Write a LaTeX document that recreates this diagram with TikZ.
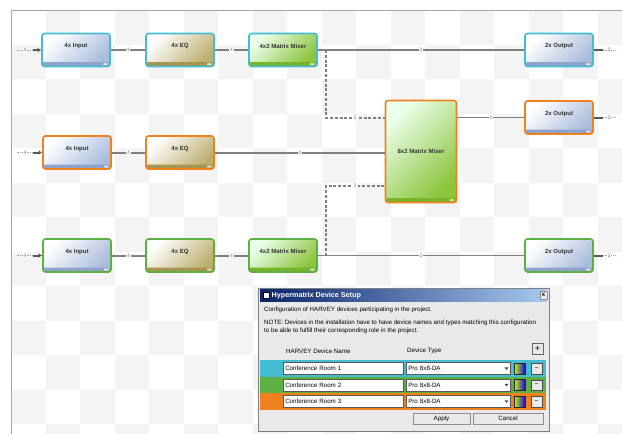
\documentclass[tikz,border=0pt]{standalone}
\usepackage{fontspec}
\setmainfont{Liberation Sans}
\usepackage{xcolor}
\usetikzlibrary{arrows.meta}

\definecolor{roomcyan}{HTML}{45BCD2}
\definecolor{roomgreen}{HTML}{5DB043}
\definecolor{roomorange}{HTML}{F0821E}
\definecolor{inputblue}{HTML}{A9BCDC}
\definecolor{inputdark}{HTML}{8EA3CB}
\definecolor{eqkhaki}{HTML}{BCAE6E}
\definecolor{eqdark}{HTML}{A69550}
\definecolor{mixgreen}{HTML}{8CC43C}
\definecolor{mixdark}{HTML}{78B32C}
\definecolor{linkgray}{HTML}{808080}
\definecolor{checkgray}{HTML}{F4F4F4}
\definecolor{dlgface}{HTML}{E9E9E9}
\definecolor{titledark}{HTML}{0A246A}
\definecolor{titlelight}{HTML}{A6CAF0}

\tikzset{
  block/.style={draw=#1, line width=1.6pt, rounded corners=2.5pt,
    minimum width=68pt, minimum height=33pt, inner sep=0pt},
  strip/.style={path picture={
    \fill[#1] ([yshift=4.5pt]path picture bounding box.south west) rectangle (path picture bounding box.south east);
    \fill[white,opacity=.75] ([xshift=-7pt,yshift=1.2pt]path picture bounding box.south east) rectangle ([xshift=-2.5pt,yshift=3.6pt]path picture bounding box.south east);}},
  inblock/.style={block=#1, left color=white, right color=inputblue, shading angle=45, strip=inputdark},
  eqblock/.style={block=#1, left color=white, right color=eqkhaki, shading angle=45, strip=eqdark},
  mixblock/.style={block=#1, left color=green!8!white, right color=mixgreen, shading angle=45, strip=mixdark},
  blocklbl/.style={anchor=north, yshift=-7.5pt, font=\bfseries\fontsize{6}{6.5}\selectfont, text=black!80},
  fatlink/.style={draw=linkgray, line width=2pt},
  thinlink/.style={draw=linkgray, line width=1.1pt},
  dashlink/.style={draw=linkgray, line width=1.1pt, dash pattern=on 3pt off 1.8pt},
  portline/.style={draw=linkgray!70, line width=0.6pt, dash pattern=on 1.5pt off 1pt},
  count/.style={font=\fontsize{5}{5.5}\selectfont, text=black!55, fill=white, inner sep=0.8pt},
  dlgtext/.style={anchor=west, inner sep=0pt, font=\fontsize{6.2}{7}\selectfont},
  dlgbox/.style={draw=black!65, line width=0.5pt, fill=white, inner xsep=2pt, inner ysep=0pt,
    minimum height=12pt, font=\fontsize{6.2}{7}\selectfont, align=left},
  dlgbutton/.style={draw=black!45, line width=0.5pt, fill=dlgface, inner sep=0pt,
    font=\fontsize{6.2}{7}\selectfont},
}

\begin{document}
\begin{tikzpicture}[x=1pt,y=-1pt]
\useasboundingbox (0,0) rectangle (622,434);
\fill[white] (0,0) rectangle (622,434);
% Drawing canvas
\begin{scope}
\clip (11,10) rectangle (622,434);
\foreach \i in {0,...,17} {
  \foreach \j in {0,...,12} {
    \pgfmathtruncatemacro{\odd}{mod(\i+\j,2)}
    \ifnum\odd=1
      \fill[checkgray] (11+34.5*\i,10+34.5*\j) rectangle ++(34.5,34.5);
    \fi
  }
}
\end{scope}
\draw[gray!70, line width=1pt] (11,434) -- (11,10) -- (622,10);
% Done with canvas; drawing blocks
% Room 1: cyan
\node[inblock=roomcyan, label={[blocklbl]north:4x Input}] (in1) at (76.000000, 50.000000) {};
\node[eqblock=roomcyan, label={[blocklbl]north:4x EQ}] (eq1) at (180.000000, 50.000000) {};
\node[mixblock=roomcyan, label={[blocklbl]north:4x2 Matrix Mixer}] (mx1) at (283.000000, 50.000000) {};
\node[inblock=roomcyan, label={[blocklbl]north:2x Output}] (out1) at (559.000000, 50.000000) {};
% Room 2: orange
\node[inblock=roomorange, label={[blocklbl]north:4x Input}] (in2) at (77.000000, 152.500000) {};
\node[eqblock=roomorange, label={[blocklbl]north:4x EQ}] (eq2) at (180.000000, 152.500000) {};
\node[mixblock=roomorange, minimum width=71pt, minimum height=102pt,
  font=\bfseries\fontsize{6}{6.5}\selectfont, text=black!80] (mx2) at (421.000000, 151.500000) {8x2 Matrix Mixer};
\node[inblock=roomorange, label={[blocklbl]north:2x Output}] (out2) at (559.000000, 117.500000) {};
% Room 3: green
\node[inblock=roomgreen, label={[blocklbl]north:4x Input}] (in3) at (77.000000, 255.500000) {};
\node[eqblock=roomgreen, label={[blocklbl]north:4x EQ}] (eq3) at (180.000000, 255.500000) {};
\node[mixblock=roomgreen, label={[blocklbl]north:4x2 Matrix Mixer}] (mx3) at (283.000000, 255.500000) {};
\node[inblock=roomgreen, label={[blocklbl]north:2x Output}] (out3) at (559.000000, 255.500000) {};
% Done with blocks; drawing links
\foreach \r/\y in {1/50.000000, 2/152.500000, 3/255.500000} {
  \coordinate (inp\r) at (17.000000, \y);
  \coordinate (inq\r) at (33.000000, \y);
  \draw[portline] (inp\r) -- node[count]{4} (inq\r);
  \draw[fatlink, draw=black!65, -{Latex[length=3.5pt,width=4.5pt]}] (inq\r) -- (in\r.west);
  \draw[fatlink] (in\r) -- node[count]{4} (eq\r);
}
\draw[fatlink] (eq1) -- node[count]{4} (mx1);
\draw[fatlink] (eq3) -- node[count]{4} (mx3);
\draw[fatlink] (eq2) -- node[count]{4} (eq2 -| mx2.west);
\draw[thinlink] (mx1) -- node[count]{2} (out1);
\draw[thinlink] (mx2.east |- out2) -- node[count]{2} (out2);
\draw[thinlink] (mx3) -- node[count]{2} (out3);
% Line: dashed feeds into the 8x2 mixer
\coordinate (j1) at (326.000000, 50.000000);
\coordinate (j2) at (326.000000, 118.000000);
\coordinate (j3) at (326.000000, 255.500000);
\coordinate (j4) at (326.000000, 186.000000);
\draw[dashlink] (j1) -- (j2) -- node[count]{2} (j2 -| mx2.west);
\draw[dashlink] (j3) -- (j4) -- node[count]{2} (j4 -| mx2.west);
% Line: output tails
\foreach \r in {1,2,3} {
  \coordinate (outp\r) at ([xshift=9pt]out\r.east);
  \coordinate (outq\r) at ([xshift=22pt]out\r.east);
  \draw[fatlink, draw=black!65] (out\r.east) -- (outp\r);
  \draw[portline] (outp\r) -- node[count, text=red!45!gray]{2} (outq\r);
}
% Done with links; drawing setup dialog
\node[draw=black!50, line width=0.8pt, fill=dlgface, anchor=north west, inner sep=0pt,
  minimum width=291pt, minimum height=143pt] (dlg) at (258.000000, 287.500000) {};
\node[anchor=north west, inner sep=0pt, minimum width=287pt, minimum height=11.5pt,
  left color=titledark, right color=titlelight] (dlgtitle) at (260.000000, 289.500000) {};
\node[draw=black, fill=white, line width=0.5pt, minimum size=6pt, inner sep=0pt] (dlgicon) at (266.000000, 295.200000) {};
\node[anchor=west, inner sep=0pt, text=white, font=\bfseries\fontsize{7.2}{8}\selectfont] (dlgname) at (271.500000, 295.200000) {Hypermatrix Device Setup};
\node[dlgbutton, minimum width=7pt, minimum height=8pt, font=\bfseries\fontsize{6}{6}\selectfont] (dlgclose) at (543.500000, 295.200000) {x};
\node[dlgtext] (dlgline1) at (264.000000, 310.000000) {Configuration of HARVEY devices participating in the project.};
\node[dlgtext] (dlgline2) at (264.000000, 322.500000) {NOTE: Devices in the installation have to have device names and types matching this configuration};
\node[dlgtext] (dlgline3) at (264.000000, 330.500000) {to be able to fulfill their corresponding role in the project.};
\node[dlgtext] (hdrname) at (286.000000, 351.000000) {HARVEY Device Name};
\node[dlgtext] (hdrtype) at (407.000000, 351.000000) {Device Type};
\node[dlgbutton, draw=black!60, minimum size=11pt, font=\fontsize{9}{9}\selectfont] (addbtn) at (537.500000, 348.500000) {+};
% Line: one row per room
\foreach \c/\n/\y in {roomcyan/1/368.500000, roomgreen/2/385.000000, roomorange/3/401.500000} {
  \node[fill=\c, inner sep=0pt, minimum width=286pt, minimum height=16.5pt] (row\n) at (402.500000, \y) {};
  \node[dlgbox, anchor=west, text width=116pt] (name\n) at (283.000000, \y) {Conference Room \n};
  \node[dlgbox, anchor=west, text width=100pt] (type\n) at (406.000000, \y) {Pro 8x8-DA};
  \fill[black!70] (504.500000,\y-1.2) -- (508.500000,\y-1.2) -- (506.500000,\y+1.4) -- cycle;
  \node[draw=black!85, line width=0.8pt, inner sep=0pt, minimum width=11pt, minimum height=11pt,
    left color=yellow!75!green, middle color=green!55!cyan, right color=blue!75!violet] (pick\n) at (519.500000, \y) {};
  \node[dlgbutton, draw=black!70, minimum width=11pt, minimum height=10.5pt] (del\n) at (536.500000, \y) {--};
}
\node[dlgbutton, minimum width=57pt, minimum height=11.5pt] (apply) at (441.500000, 418.500000) {Apply};
\node[dlgbutton, minimum width=70pt, minimum height=11.5pt] (cancel) at (508.000000, 418.500000) {Cancel};
% Done with dialog
\end{tikzpicture}
\end{document}
